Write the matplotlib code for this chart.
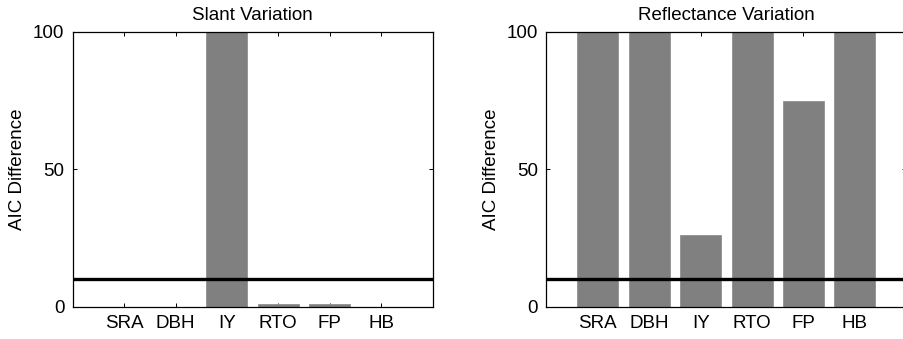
import matplotlib
matplotlib.use("Agg")
import matplotlib.pyplot as plt
import numpy as np

categories = ["SRA", "DBH", "IY", "RTO", "FP", "HB"]
slant_values = [0, 0, 100, 1, 1, 0]
reflectance_values = [100, 100, 26, 100, 75, 100]
threshold = 10
titles = ["Slant Variation", "Reflectance Variation"]
ylabel = "AIC Difference"

plt.rcParams['font.family'] = ['Liberation Sans', 'DejaVu Sans']
W, H = 904, 339
fig = plt.figure(figsize=(W / 100, H / 100), dpi=100)

def px_axes(x0, x1, y0, y1):
    return fig.add_axes([x0 / W, 1 - y1 / H, (x1 - x0) / W, (y1 - y0) / H])

axes = [px_axes(72.7, 432.5, 32, 306.7), px_axes(546.5, 906.3, 32, 306.7)]
fs = 13.5
for ax, vals, title in zip(axes, [slant_values, reflectance_values], titles):
    x = np.arange(1, len(categories) + 1)
    ax.bar(x, vals, width=0.8, color="#808080", edgecolor="#909090", linewidth=0.6, zorder=2)
    ax.axhline(threshold, color="black", linewidth=2.4, zorder=3)
    ax.set_xlim(0, 7)
    ax.set_ylim(0, 100)
    ax.set_xticks(x)
    ax.set_xticklabels(categories, fontsize=fs)
    ax.set_yticks([0, 50, 100])
    ax.set_yticklabels(["0", "50", "100"], fontsize=fs)
    ax.tick_params(direction="in", top=True, right=True, length=3, width=0.7, pad=6)
    for s in ax.spines.values():
        s.set_linewidth(0.9)
    ax.set_title(title, fontsize=fs, pad=9)
    ax.set_ylabel(ylabel, fontsize=fs, labelpad=5)

fig.savefig("out.png", dpi=100)
